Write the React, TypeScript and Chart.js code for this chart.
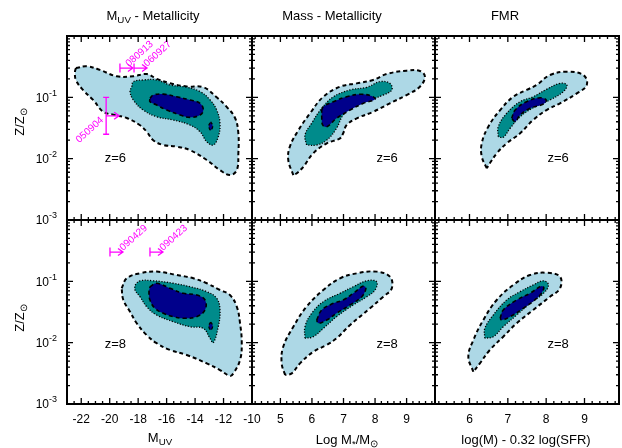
import React, { useEffect, useRef } from 'react';
import { Chart, registerables } from 'chart.js';

Chart.register(...registerables);

type Pt = [number, number];

const W = 622;
const H = 448;
const FONT = '"Liberation Sans", Arial, Helvetica, sans-serif';

// ---------------- data ----------------
const muvTicks = [-22, -20, -18, -16, -14, -12, -10];
const massTicks = [5, 6, 7, 8, 9];
const fmrTicks = [6, 7, 8, 9];
const zDecades = [-3, -2, -1, 0];
const zLabelExps = [-1, -2, -3];

// M_UV - metallicity, z = 6
const muvZ6Outer: Pt[] = [[-22.37, 0.30], [-21.62, 0.32], [-20.68, 0.28], [-19.51, 0.22], [-18.34, 0.22], [-17.40, 0.24], [-16.70, 0.20], [-15.76, 0.17], [-14.59, 0.15], [-13.42, 0.146], [-12.48, 0.10], [-11.78, 0.070], [-11.19, 0.046], [-10.96, 0.026], [-10.96, 0.012], [-11.07, 0.0065], [-11.55, 0.0054], [-12.25, 0.0065], [-13.18, 0.0095], [-14.36, 0.0138], [-15.29, 0.0157], [-16.23, 0.0167], [-16.94, 0.020], [-17.40, 0.0275], [-17.87, 0.035], [-18.80, 0.046], [-19.75, 0.052], [-20.45, 0.058], [-21.15, 0.09], [-21.85, 0.13], [-22.37, 0.19], [-22.44, 0.26]];
const muvZ6Mid: Pt[] = [[-18.45, 0.149], [-18.34, 0.180], [-17.64, 0.192], [-16.70, 0.192], [-15.76, 0.159], [-14.59, 0.146], [-13.65, 0.124], [-12.95, 0.091], [-12.48, 0.062], [-12.25, 0.0377], [-12.37, 0.0228], [-12.72, 0.0167], [-13.18, 0.0189], [-13.65, 0.0275], [-14.36, 0.0354], [-15.53, 0.0427], [-16.70, 0.0483], [-17.64, 0.062], [-18.34, 0.0906], [-18.57, 0.124]];
const muvZ6Inner: Pt[] = [[-17.17, 0.0964], [-16.94, 0.109], [-16.23, 0.113], [-15.29, 0.102], [-14.36, 0.0906], [-13.65, 0.080], [-13.42, 0.062], [-13.65, 0.0515], [-14.36, 0.0472], [-15.06, 0.0515], [-16.0, 0.062], [-16.70, 0.075], [-17.17, 0.085]];
const muvZ6Blob: Pt[] = [[-12.9, 0.040], [-12.76, 0.034], [-12.9, 0.029], [-13.04, 0.034]];

// Mass - metallicity, z = 6
const massZ6Outer: Pt[] = [[5.41, 0.0054], [5.25, 0.0095], [5.30, 0.0157], [5.57, 0.029], [5.94, 0.055], [6.36, 0.102], [6.89, 0.149], [7.42, 0.169], [7.94, 0.192], [8.37, 0.24], [9.0, 0.272], [9.42, 0.269], [9.58, 0.217], [9.42, 0.149], [9.0, 0.109], [8.47, 0.080], [7.94, 0.058], [7.42, 0.0455], [7.10, 0.0354], [6.99, 0.026], [6.89, 0.0215], [6.47, 0.0178], [6.04, 0.0122], [5.73, 0.0074], [5.52, 0.0058]];
const massZ6Mid: Pt[] = [[5.83, 0.0167], [5.78, 0.0243], [5.99, 0.0377], [6.31, 0.0662], [6.68, 0.102], [7.21, 0.132], [7.74, 0.146], [8.16, 0.180], [8.47, 0.169], [8.53, 0.132], [8.26, 0.109], [7.84, 0.0906], [7.31, 0.0703], [6.99, 0.0515], [6.78, 0.0313], [6.47, 0.0201], [6.15, 0.0167]];
const massZ6Inner: Pt[] = [[6.31, 0.062], [6.36, 0.0703], [6.68, 0.085], [7.10, 0.102], [7.52, 0.112], [7.89, 0.105], [8.0, 0.093], [7.63, 0.080], [7.21, 0.062], [6.78, 0.0455], [6.47, 0.0332], [6.34, 0.0354], [6.31, 0.0483]];

// FMR, z = 6
const fmrZ6Outer: Pt[] = [[6.45, 0.0070], [6.32, 0.0108], [6.32, 0.0178], [6.49, 0.0332], [6.80, 0.062], [7.14, 0.102], [7.49, 0.132], [7.75, 0.159], [8.10, 0.231], [8.54, 0.262], [8.97, 0.231], [9.06, 0.159], [8.80, 0.116], [8.36, 0.080], [8.01, 0.062], [7.66, 0.0427], [7.32, 0.0259], [6.97, 0.0178], [6.71, 0.0122], [6.53, 0.0084]];
const fmrZ6Mid: Pt[] = [[6.75, 0.0228], [6.75, 0.0332], [6.97, 0.055], [7.32, 0.085], [7.66, 0.102], [8.01, 0.135], [8.36, 0.169], [8.54, 0.159], [8.45, 0.124], [8.10, 0.0906], [7.71, 0.0703], [7.32, 0.0483], [7.06, 0.0313], [6.88, 0.0223]];
const fmrZ6Inner: Pt[] = [[7.10, 0.0455], [7.19, 0.062], [7.49, 0.085], [7.84, 0.0986], [8.0, 0.0906], [7.93, 0.078], [7.58, 0.0662], [7.32, 0.0515], [7.19, 0.0401]];

// M_UV - metallicity, z = 8
const muvZ8Outer: Pt[] = [[-19.16, 0.0769], [-18.80, 0.112], [-17.87, 0.135], [-16.70, 0.144], [-15.29, 0.127], [-14.12, 0.112], [-13.18, 0.093], [-12.25, 0.0722], [-11.55, 0.0598], [-11.07, 0.0386], [-10.84, 0.0207], [-10.72, 0.0098], [-10.84, 0.0052], [-11.31, 0.00316], [-11.55, 0.00286], [-12.25, 0.00358], [-13.18, 0.0046], [-14.59, 0.0063], [-15.76, 0.0076], [-16.70, 0.0098], [-17.40, 0.0133], [-18.10, 0.0207], [-18.57, 0.032], [-19.04, 0.0496]];
const muvZ8Mid: Pt[] = [[-18.22, 0.0871], [-17.87, 0.102], [-16.94, 0.102], [-15.53, 0.093], [-14.36, 0.0817], [-13.18, 0.0678], [-12.48, 0.0529], [-12.25, 0.0341], [-12.37, 0.0182], [-12.72, 0.010], [-12.95, 0.0118], [-13.42, 0.0171], [-14.36, 0.0182], [-15.53, 0.022], [-16.70, 0.0282], [-17.40, 0.0386], [-17.87, 0.0562], [-18.22, 0.0722]];
const muvZ8Inner: Pt[] = [[-17.17, 0.0817], [-16.70, 0.093], [-15.76, 0.0769], [-14.83, 0.0638], [-13.89, 0.0598], [-13.30, 0.0496], [-13.30, 0.0341], [-13.89, 0.0265], [-14.83, 0.025], [-15.53, 0.0265], [-16.23, 0.0301], [-16.82, 0.0363], [-17.17, 0.0496], [-17.24, 0.0678]];
const muvZ8Blob: Pt[] = [[-12.9, 0.0217], [-12.76, 0.0187], [-12.9, 0.0161], [-13.04, 0.0187]];

// Mass - metallicity, z = 8
const massZ8Outer: Pt[] = [[5.15, 0.00297], [5.04, 0.0046], [5.09, 0.0086], [5.41, 0.0182], [5.83, 0.0386], [6.36, 0.0722], [6.89, 0.112], [7.42, 0.135], [8.05, 0.144], [8.47, 0.119], [8.53, 0.0769], [8.26, 0.0562], [7.84, 0.0363], [7.21, 0.0194], [6.78, 0.0118], [6.47, 0.0092], [6.04, 0.0071], [5.62, 0.0046], [5.36, 0.00316]];
const massZ8Mid: Pt[] = [[5.78, 0.0118], [5.78, 0.0182], [5.99, 0.0301], [6.36, 0.0466], [6.89, 0.0638], [7.31, 0.0817], [7.74, 0.102], [8.05, 0.0986], [8.0, 0.0722], [7.74, 0.0562], [7.31, 0.0412], [6.78, 0.0265], [6.36, 0.0171], [6.04, 0.0125]];
const massZ8Inner: Pt[] = [[6.15, 0.0234], [6.31, 0.0341], [6.68, 0.0438], [6.99, 0.0496], [7.31, 0.0638], [7.63, 0.0839], [7.71, 0.0769], [7.58, 0.0562], [7.21, 0.0412], [6.78, 0.0301], [6.47, 0.0234], [6.20, 0.0207]];

// FMR, z = 8
const fmrZ8Outer: Pt[] = [[6.10, 0.00336], [5.97, 0.0059], [6.10, 0.011], [6.36, 0.0234], [6.71, 0.0496], [7.14, 0.0871], [7.58, 0.127], [8.01, 0.138], [8.36, 0.119], [8.36, 0.0769], [8.10, 0.0562], [7.66, 0.0341], [7.23, 0.0207], [6.88, 0.0125], [6.53, 0.0076], [6.27, 0.0046]];
const fmrZ8Mid: Pt[] = [[6.40, 0.0118], [6.40, 0.0171], [6.62, 0.0282], [6.97, 0.0496], [7.32, 0.0678], [7.66, 0.0871], [7.93, 0.102], [8.06, 0.0871], [7.93, 0.0638], [7.58, 0.0438], [7.23, 0.0282], [6.88, 0.0182], [6.62, 0.0125]];
const fmrZ8Inner: Pt[] = [[6.80, 0.025], [6.88, 0.0341], [7.23, 0.0496], [7.58, 0.0638], [7.88, 0.0839], [7.94, 0.0769], [7.80, 0.0562], [7.40, 0.0363], [7.06, 0.0265], [6.84, 0.0234]];

// GRB hosts (magenta)
const grbZ6Names = ['050904', '080913', '060927'];
const grbZ6Muv = [-20.25, -19.28, -18.29];
const grbZ6Z = [0.05, 0.3, 0.3];
const grbZ6ZLo = [0.025, NaN, NaN];
const grbZ6ZHi = [0.1, NaN, NaN];
const grbZ8Names = ['090429', '090423'];
const grbZ8Muv = [-19.98, -17.17];
const grbZ8Z = [0.3, 0.3];
const grbZ8ZLo = [NaN, NaN];
const grbZ8ZHi = [NaN, NaN];

const zText = ['z=6', 'z=8'];
const zTextMuv = -19.6;
const zTextMass = 8.38;
const zTextFmr = 8.31;
const zTextZ = [0.01, 0.0092];

// ---------------- layout / style ----------------
const colBounds = [[67, 252], [252, 435], [435, 619]];
const rowBounds = [[36, 220], [220, 404]];
const cOuter = '#ADD8E6';
const cMid = '#008B8B';
const cInner = '#00008B';
const magenta = '#FF00FF';

interface Grb { names: string[]; x: number[]; z: number[]; lo: number[]; hi: number[]; labelLeft: boolean[]; labelShift: number[] }
interface Panel {
  key: string; col: number; row: number;
  xMin: number; xMax: number; xMajor: number[]; xMinorStep: number;
  outer: Pt[]; mid: Pt[]; inner: Pt[]; blobs: Pt[][];
  zLabel: string; zPos: Pt; grb?: Grb;
}

const panels: Panel[] = [
  { key: 'muv6', col: 0, row: 0, xMin: -23, xMax: -10, xMajor: muvTicks, xMinorStep: 0.5, outer: muvZ6Outer, mid: muvZ6Mid, inner: muvZ6Inner, blobs: [muvZ6Blob], zLabel: zText[0], zPos: [zTextMuv, zTextZ[0]],
    grb: { names: grbZ6Names, x: grbZ6Muv, z: grbZ6Z, lo: grbZ6ZLo, hi: grbZ6ZHi, labelLeft: [true, false, false], labelShift: [0, -4, 0] } },
  { key: 'mass6', col: 1, row: 0, xMin: 4.1, xMax: 9.9, xMajor: massTicks, xMinorStep: 0.2, outer: massZ6Outer, mid: massZ6Mid, inner: massZ6Inner, blobs: [], zLabel: zText[0], zPos: [zTextMass, zTextZ[0]] },
  { key: 'fmr6', col: 2, row: 0, xMin: 5.1, xMax: 9.9, xMajor: fmrTicks, xMinorStep: 0.2, outer: fmrZ6Outer, mid: fmrZ6Mid, inner: fmrZ6Inner, blobs: [], zLabel: zText[0], zPos: [zTextFmr, zTextZ[0]] },
  { key: 'muv8', col: 0, row: 1, xMin: -23, xMax: -10, xMajor: muvTicks, xMinorStep: 0.5, outer: muvZ8Outer, mid: muvZ8Mid, inner: muvZ8Inner, blobs: [muvZ8Blob], zLabel: zText[1], zPos: [zTextMuv, zTextZ[1]],
    grb: { names: grbZ8Names, x: grbZ8Muv, z: grbZ8Z, lo: grbZ8ZLo, hi: grbZ8ZHi, labelLeft: [false, false], labelShift: [0, 0] } },
  { key: 'mass8', col: 1, row: 1, xMin: 4.1, xMax: 9.9, xMajor: massTicks, xMinorStep: 0.2, outer: massZ8Outer, mid: massZ8Mid, inner: massZ8Inner, blobs: [], zLabel: zText[1], zPos: [zTextMass, zTextZ[1]] },
  { key: 'fmr8', col: 2, row: 1, xMin: 5.1, xMax: 9.9, xMajor: fmrTicks, xMinorStep: 0.2, outer: fmrZ8Outer, mid: fmrZ8Mid, inner: fmrZ8Inner, blobs: [], zLabel: zText[1], zPos: [zTextFmr, zTextZ[1]] },
];

function contour(pts: Pt[], color: string, dash: number[], width: number) {
  const closed = [...pts, pts[0]];
  return {
    data: closed.map(([x, y]) => ({ x, y })),
    showLine: true,
    fill: 'shape',
    backgroundColor: color,
    borderColor: '#000',
    borderWidth: width,
    borderDash: dash,
    pointRadius: 0,
    pointHoverRadius: 0,
    tension: 0.4,
  };
}

function decor(p: Panel) {
  return {
    id: 'decor_' + p.key,
    afterDraw(chart: any) {
      const ctx = chart.ctx as CanvasRenderingContext2D;
      const xs = chart.scales.x;
      const ys = chart.scales.y;
      const { left, right, top, bottom } = chart.chartArea;
      const X = (v: number) => xs.getPixelForValue(v);
      const Y = (v: number) => ys.getPixelForValue(v);
      ctx.save();

      // GRB annotations
      if (p.grb) {
        const g = p.grb;
        ctx.strokeStyle = magenta;
        ctx.fillStyle = magenta;
        ctx.lineWidth = 1.3;
        for (let i = 0; i < g.names.length; i++) {
          const px = X(g.x[i]);
          const py = Y(g.z[i]);
          ctx.beginPath();
          if (isFinite(g.lo[i]) && isFinite(g.hi[i])) {
            const yl = Y(g.lo[i]);
            const yh = Y(g.hi[i]);
            ctx.moveTo(px, yl); ctx.lineTo(px, yh);
            ctx.moveTo(px - 3, yl); ctx.lineTo(px + 3, yl);
            ctx.moveTo(px - 3, yh); ctx.lineTo(px + 3, yh);
          } else {
            ctx.moveTo(px, py - 4.5); ctx.lineTo(px, py + 4.5);
          }
          const tip = px + 13;
          ctx.moveTo(px, py); ctx.lineTo(tip, py);
          ctx.moveTo(tip - 5, py - 3.5); ctx.lineTo(tip, py); ctx.lineTo(tip - 5, py + 3.5);
          ctx.stroke();
          ctx.save();
          ctx.font = `10px ${FONT}`;
          if (g.labelLeft[i]) {
            ctx.translate(px - 4, py + 3);
            ctx.rotate(-42 * Math.PI / 180);
            ctx.textAlign = 'right';
            ctx.textBaseline = 'middle';
          } else {
            ctx.translate(tip + g.labelShift[i], py - 1);
            ctx.rotate(-42 * Math.PI / 180);
            ctx.textAlign = 'left';
            ctx.textBaseline = 'alphabetic';
          }
          ctx.fillText(g.names[i], 0, 0);
          ctx.restore();
        }
      }

      // redshift label
      ctx.fillStyle = '#000';
      ctx.font = `13px ${FONT}`;
      ctx.textAlign = 'center';
      ctx.textBaseline = 'middle';
      ctx.fillText(p.zLabel, X(p.zPos[0]), Y(p.zPos[1]));

      // ticks (inward, mirrored)
      ctx.strokeStyle = '#000';
      ctx.lineWidth = 1.3;
      ctx.beginPath();
      const tickX = (px: number, len: number) => {
        if (px < left + 1.5 || px > right - 1.5) return;
        ctx.moveTo(px, bottom); ctx.lineTo(px, bottom - len);
        ctx.moveTo(px, top); ctx.lineTo(px, top + len);
      };
      const tickY = (py: number, len: number) => {
        if (py < top + 1.5 || py > bottom - 1.5) return;
        ctx.moveTo(left, py); ctx.lineTo(left + len, py);
        ctx.moveTo(right, py); ctx.lineTo(right - len, py);
      };
      const n0 = Math.ceil(p.xMin / p.xMinorStep - 1e-6);
      const n1 = Math.floor(p.xMax / p.xMinorStep + 1e-6);
      for (let i = n0; i <= n1; i++) {
        const v = i * p.xMinorStep;
        const major = p.xMajor.some((m) => Math.abs(m - v) < 1e-6);
        tickX(X(v), major ? 6 : 3);
      }
      for (const e of zDecades) {
        tickY(Y(10 ** e), 6);
        if (e < 0) for (let k = 2; k <= 9; k++) tickY(Y(k * 10 ** e), 3);
      }
      ctx.stroke();
      ctx.lineWidth = 2;
      ctx.strokeRect(left, top, right - left, bottom - top);

      // x tick labels
      if (p.row === 1) {
        ctx.fillStyle = '#000';
        ctx.font = `12px ${FONT}`;
        ctx.textAlign = 'center';
        ctx.textBaseline = 'top';
        for (const m of p.xMajor) ctx.fillText(String(m), X(m), bottom + 10);
      }
      // y tick labels
      if (p.col === 0) {
        ctx.fillStyle = '#000';
        for (const e of zLabelExps) {
          const py = Y(10 ** e);
          const exp = String(e);
          ctx.font = `9px ${FONT}`;
          const ew = ctx.measureText(exp).width;
          ctx.font = `12px ${FONT}`;
          const bw = ctx.measureText('10').width;
          const xEnd = left - 10;
          ctx.textAlign = 'left';
          ctx.textBaseline = 'middle';
          ctx.fillText('10', xEnd - ew - bw, py + 1);
          ctx.font = `9px ${FONT}`;
          ctx.fillText(exp, xEnd - ew, py - 4);
        }
      }
      ctx.restore();
    },
  };
}

function PanelCanvas({ p }: { p: Panel }) {
  const ref = useRef<HTMLCanvasElement>(null);
  useEffect(() => {
    const [l, r] = colBounds[p.col];
    const [t, b] = rowBounds[p.row];
    const datasets: any[] = [
      ...p.blobs.map((bl) => contour(bl, cInner, [3, 2], 1.3)),
      contour(p.inner, cInner, [4, 3], 1.6),
      contour(p.mid, cMid, [1.2, 1.6], 1.3),
      contour(p.outer, cOuter, [4, 3], 2),
    ];
    const chart = new Chart(ref.current as HTMLCanvasElement, {
      type: 'scatter',
      data: { datasets },
      options: {
        animation: false,
        responsive: false,
        devicePixelRatio: 1,
        events: [],
        layout: { padding: { left: l, right: W - r, top: t, bottom: H - b } },
        plugins: { legend: { display: false }, tooltip: { enabled: false }, filler: { propagate: false } },
        scales: {
          x: { type: 'linear', min: p.xMin, max: p.xMax, display: false },
          y: { type: 'logarithmic', min: 1e-3, max: 1, display: false },
        },
      } as any,
      plugins: [decor(p)],
    });
    return () => chart.destroy();
  }, [p]);
  return (
    <canvas ref={ref} width={W} height={H}
      style={{ position: 'absolute', left: 0, top: 0, width: W, height: H }} />
  );
}

const subStyle: React.CSSProperties = { fontSize: '0.75em', verticalAlign: '-0.3em', lineHeight: 0 };

function Txt({ x, y, rot, children }: { x: number; y: number; rot?: boolean; children: React.ReactNode }) {
  return (
    <div style={{
      position: 'absolute', left: x, top: y, whiteSpace: 'nowrap', fontSize: 13, lineHeight: '16px',
      color: '#000', transform: `translate(-50%, -50%)${rot ? ' rotate(-90deg)' : ''}`,
    }}>{children}</div>
  );
}

export default function App() {
  return (
    <div style={{ position: 'fixed', left: 0, top: 0, width: W, height: H, background: '#fff', overflow: 'hidden', fontFamily: FONT }}>
      {panels.map((p) => <PanelCanvas key={p.key} p={p} />)}
      <Txt x={153} y={16}>M<sub style={subStyle}>UV</sub> - Metallicity</Txt>
      <Txt x={332} y={16}>Mass - Metallicity</Txt>
      <Txt x={505} y={16}>FMR</Txt>
      <Txt x={160} y={438}>M<sub style={subStyle}>UV</sub></Txt>
      <Txt x={347} y={440}>Log M<sub style={subStyle}>*</sub>/M<sub style={subStyle}>⊙</sub></Txt>
      <Txt x={526} y={440}>log(M) - 0.32 log(SFR)</Txt>
      <Txt x={20} y={122} rot>Z/Z<sub style={subStyle}>⊙</sub></Txt>
      <Txt x={20} y={318} rot>Z/Z<sub style={subStyle}>⊙</sub></Txt>
    </div>
  );
}
